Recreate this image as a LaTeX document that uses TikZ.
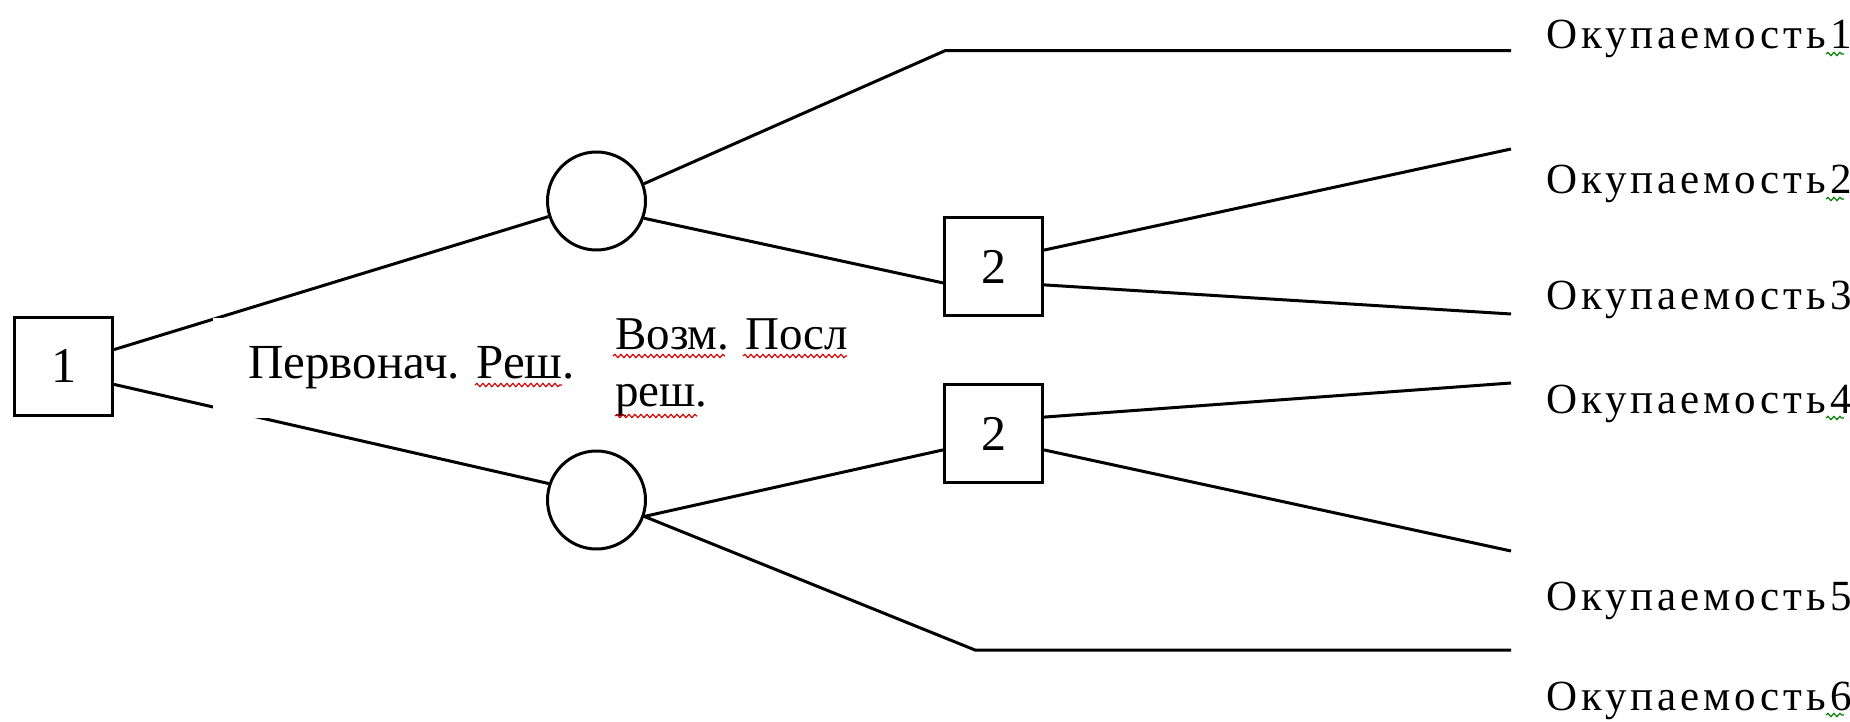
\documentclass[tikz,border=0pt]{standalone}
\usepackage{fontspec}
\setmainfont{Liberation Serif}
\newfontfamily\labfont[LetterSpace=9]{Liberation Serif}
\usetikzlibrary{decorations.pathmorphing}
\tikzset{
  dbox/.style={draw, line width=3pt, minimum size=98pt, inner sep=0pt, font=\fontsize{50}{60}\selectfont},
  chance/.style={draw, circle, line width=3pt, minimum size=98pt, inner sep=0pt},
  conn/.style={line width=3pt},
  outlab/.style={anchor=base west, inner sep=0pt, font=\labfont\fontsize{43}{50}\selectfont},
  midlab/.style={anchor=base west, inner sep=0pt, font=\fontsize{47}{56}\selectfont},
  spell/.style={red!85!black, line width=1.2pt, decorate, decoration={snake, amplitude=1.6pt, segment length=6pt}},
  gram/.style={green!50!black, line width=1.2pt, decorate, decoration={snake, amplitude=1.6pt, segment length=6pt}}
}
\begin{document}
\begin{tikzpicture}[x=1pt,y=-1pt]
\useasboundingbox (0,0) rectangle (1850,722);
\fill[white] (0,0) rectangle (1850,722);

\node[dbox] (b1) at (63.5,366) {1};
\node[chance] (c1) at (596.5,201) {};
\node[chance] (c2) at (596.5,500) {};
\node[dbox] (b2u) at (993.5,266.5) {2};
\node[dbox] (b2l) at (993.5,433.5) {2};

\coordinate (k1) at (945,50.7);
\coordinate (f1) at (1511,50.7);
\coordinate (f2) at (1511,149);
\coordinate (f3) at (1511,314);
\coordinate (f4) at (1511,383);
\coordinate (f5) at (1511,551);
\coordinate (k6) at (975,650);
\coordinate (f6) at (1511,650);

\draw[conn] (b1.18) -- (c1.198);
\draw[conn] (b1.-20) -- (c2.161);
\draw[conn] (c1.20) -- (k1) -- (f1);
\draw[conn] (c1.-20) -- (b2u.198);
\draw[conn] (b2u.18) -- (f2);
\draw[conn] (b2u.-20) -- (f3);
\draw[conn] (c2.-19) -- (b2l.198);
\draw[conn] (c2.-19) -- (k6) -- (f6);
\draw[conn] (b2l.18) -- (f4);
\draw[conn] (b2l.-18) -- (f5);

% text box of the first label (white background hides parts of the lines)
\fill[white] (213,318) rectangle (580,418);
\node[midlab, font=\fontsize{49}{58}\selectfont] (t1) at (248,378) {Первонач. Реш.};
\node[midlab] (t2) at (615,349) {Возм. Посл};
\node[midlab] (t3) at (615,406) {реш.};

\draw[spell] (475,385) -- (562,385);
\draw[spell] (613,356) -- (725,356);
\draw[spell] (743,356) -- (847,356);
\draw[spell] (615,416) -- (697,416);

\node[outlab] (o1) at (1546,49) {Окупаемость1};
\node[outlab] (o2) at (1546,194) {Окупаемость2};
\node[outlab] (o3) at (1546,309) {Окупаемость3};
\node[outlab] (o4) at (1546,413) {Окупаемость4};
\node[outlab] (o5) at (1546,610) {Окупаемость5};
\node[outlab] (o6) at (1546,710) {Окупаемость6};

\draw[gram] (1826,54) -- (1844,54);
\draw[gram] (1826,199) -- (1844,199);
\draw[gram] (1826,418) -- (1844,418);
\draw[gram] (1826,715) -- (1844,715);
\end{tikzpicture}
\end{document}
